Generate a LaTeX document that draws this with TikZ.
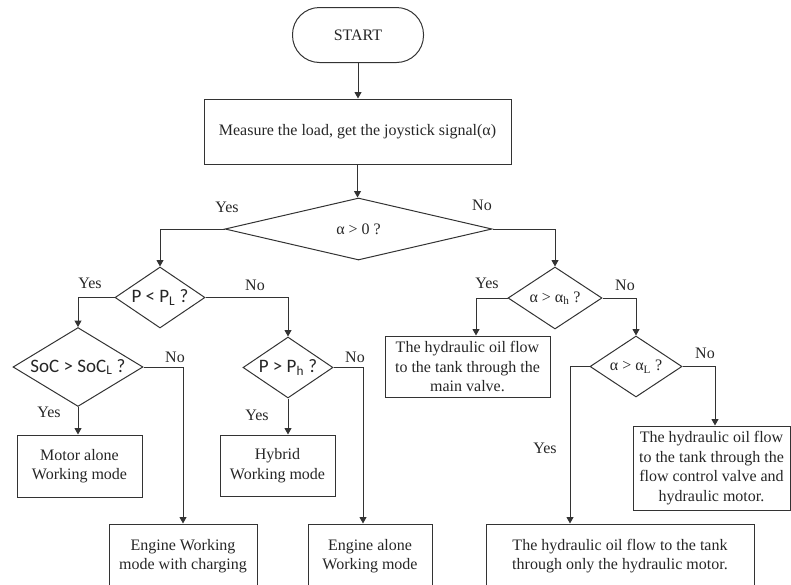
\documentclass[tikz,border=0pt]{standalone}
\usepackage{fontspec}
\setmainfont{Liberation Serif}
\newfontfamily\cfont{Carlito}
\usetikzlibrary{arrows.meta,shapes.geometric}
\tikzset{
  base/.style={font=\fontsize{16}{19.5}\selectfont, text=black!85},
  sansq/.style={font=\cfont\fontsize{19}{22}\selectfont},
  box/.style={base, rectangle, draw=black!80, line width=1pt, align=center, inner sep=0pt},
  dec/.style={base, diamond, draw=black!80, line width=1pt, inner sep=0pt, aspect=1.5},
  term/.style={box, rounded corners=27pt},
  flow/.style={draw=black!80, line width=1pt, -{Triangle[length=6.5pt,width=7pt]}},
  lbl/.style={base},
}
\begin{document}
\begin{tikzpicture}[x=1pt,y=-1pt]
\useasboundingbox (0,0) rectangle (791,584);
\clip (0,0) rectangle (791,584);

% top of the chart
\node[term, minimum width=131pt, minimum height=55pt] (start) at (358,35) {START};
\node[box, minimum width=307pt, minimum height=65pt] (measure) at (357.5,131.5)
  {Measure the load, get the joystick signal(α)};
\node[dec, minimum width=267pt, minimum height=62pt] (d0) at (358.5,229) {α > 0 ?};

% left branch: electric / engine modes
\node[dec, sansq, minimum width=90pt, minimum height=61pt] (dPL) at (160,297.5)
  {P < P\textsubscript{L} ?};
\node[dec, sansq, minimum width=130pt, minimum height=60pt] (dsoc) at (78,367)
  {SoC > SoC\textsubscript{L} ?};
\node[dec, sansq, minimum width=90pt, minimum height=61pt] (dph) at (288,367.5)
  {P > P\textsubscript{h} ?};
\node[box, minimum width=125pt, minimum height=62pt] (motor) at (79.5,466)
  {Motor alone\\Working mode};
\node[box, minimum width=115pt, minimum height=61pt] (hybrid) at (277.5,465.5)
  {Hybrid\\Working mode};
\node[box, minimum width=148pt, minimum height=64pt] (engc) at (183,556)
  {Engine Working\\mode with charging};
\node[box, minimum width=124pt, minimum height=64pt] (enga) at (370,556)
  {Engine alone\\Working mode};

% right branch: hydraulic oil paths
\node[dec, minimum width=94pt, minimum height=62pt] (dah) at (555,298)
  {α > α\textsubscript{h} ?};
\node[dec, minimum width=92pt, minimum height=61pt] (dal) at (636,366.5)
  {α > α\textsubscript{L} ?};
\node[box, minimum width=165pt, minimum height=61pt] (mainv) at (467.5,366.5)
  {The hydraulic oil flow\\to the tank through the\\main valve.};
\node[box, minimum width=157pt, minimum height=84pt] (flowb) at (711.5,468)
  {The hydraulic oil flow\\to the tank through the\\flow control valve and\\hydraulic motor.};
\node[box, minimum width=268pt, minimum height=64pt] (bot) at (620,556)
  {The hydraulic oil flow to the tank\\through only the hydraulic motor.};

% connectors
\draw[flow] (start) -- (start |- measure.north);
\draw[flow] (measure) -- (measure |- d0.north);
\draw[flow] (d0.west) -| (dPL.north);
\draw[flow] (d0.east) -| (dah.north);
\draw[flow] (dPL.west) -| (dsoc.north);
\draw[flow] (dPL.east) -| (dph.north);
\draw[flow] (dsoc.south) -- (dsoc.south |- motor.north);
\draw[flow] (dsoc.east) -| (engc.north);
\draw[flow] (dph.south) -- (dph.south |- hybrid.north);
\draw[flow] (dph.east) -| ([xshift=-7pt]enga.north);
\draw[flow] (dah.west) -| ([xshift=8.5pt]mainv.north);
\draw[flow] (dah.east) -| (dal.north);
\draw[flow] (dal.east) -| ([xshift=3.5pt]flowb.north);
\draw[flow] (dal.west) -| ([xshift=-50pt]bot.north);

% branch labels
\node[lbl] (y0) at (227,207) {Yes};
\node[lbl] (n0) at (482,205) {No};
\node[lbl] (y1) at (90,283) {Yes};
\node[lbl] (n1) at (255,285) {No};
\node[lbl] (n2) at (175,357) {No};
\node[lbl] (y2) at (49,412) {Yes};
\node[lbl] (n3) at (355,357) {No};
\node[lbl] (y3) at (257,415) {Yes};
\node[lbl] (y4) at (487,283) {Yes};
\node[lbl] (n4) at (625,285) {No};
\node[lbl] (n5) at (705,353) {No};
\node[lbl] (y5) at (545,448) {Yes};
\end{tikzpicture}
\end{document}
